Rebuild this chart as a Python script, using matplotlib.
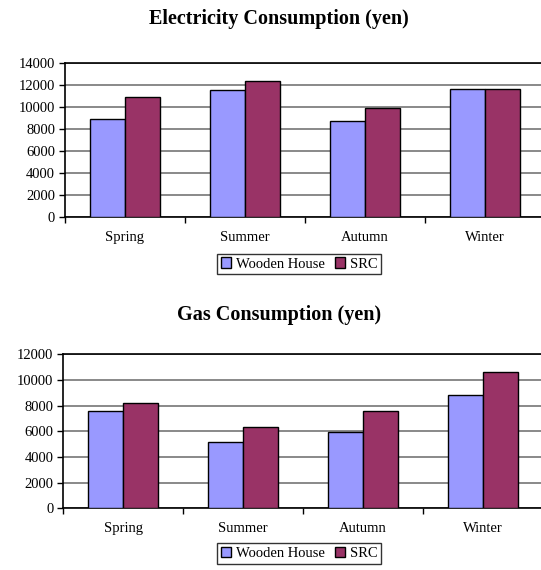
import numpy as np
import matplotlib
matplotlib.use("Agg")
import matplotlib.pyplot as plt

# values (yen)
seasons = ["Spring", "Summer", "Autumn", "Winter"]
series_names = ["Wooden House", "SRC"]
elec_wooden = [8950, 11500, 8700, 11600]
elec_src = [10950, 12350, 9950, 11600]
gas_wooden = [7550, 5200, 5950, 8850]
gas_src = [8200, 6300, 7550, 10600]

colors = ["#9999FF", "#993366"]
plt.rcParams["font.family"] = ["Liberation Serif", "DejaVu Serif"]

fig = plt.figure(figsize=(5.41, 5.70), dpi=100)


def draw_panel(rect, wooden, src, ymax, title, title_y, legend_y):
    ax = fig.add_axes(rect)
    x = np.arange(len(seasons))
    w = 0.29
    ax.bar(x - w / 2, wooden, w, color=colors[0], edgecolor="black",
           linewidth=1.0, label=series_names[0], zorder=3)
    ax.bar(x + w / 2, src, w, color=colors[1], edgecolor="black",
           linewidth=1.0, label=series_names[1], zorder=3)
    ax.set_xlim(-0.5, len(seasons) - 0.5)
    ax.set_ylim(0, ymax)
    ax.set_yticks(np.arange(0, ymax + 1, 2000))
    ax.yaxis.grid(True, color="#808080", linewidth=1.3, zorder=0)
    ax.set_axisbelow(True)
    # ticks at category boundaries, labels at centres
    ax.set_xticks(np.arange(-0.5, len(seasons), 1.0))
    ax.set_xticklabels([])
    ax.set_xticks(x, minor=True)
    ax.set_xticklabels(seasons, minor=True, fontsize=10.5)
    ax.tick_params(axis="x", which="minor", length=0, pad=10)
    ax.tick_params(axis="x", which="major", length=4, width=1, direction="out")
    ax.tick_params(axis="y", length=4, width=1, direction="out", labelsize=10.5, pad=3)
    for s in ["left", "bottom", "top"]:
        ax.spines[s].set_linewidth(1.2)
        ax.spines[s].set_color("black")
    ax.spines["right"].set_visible(False)
    fig.text(0.515, title_y, title, ha="center", va="center",
             fontsize=14.5, fontweight="bold")
    leg = ax.legend(loc="center", bbox_to_anchor=(0.553, legend_y),
                    bbox_transform=fig.transFigure, ncol=2, fontsize=10.5,
                    frameon=True, fancybox=False, handlelength=0.7,
                    handleheight=0.7, handletextpad=0.35, columnspacing=0.7,
                    borderpad=0.25, borderaxespad=0)
    leg.get_frame().set_edgecolor("black")
    leg.get_frame().set_linewidth(1.0)
    return ax


draw_panel([0.120, 0.6193, 0.887, 0.2702], elec_wooden, elec_src, 14000,
           "Electricity Consumption (yen)", 0.9667, 0.537)
draw_panel([0.117, 0.1082, 0.887, 0.2702], gas_wooden, gas_src, 12000,
           "Gas Consumption (yen)", 0.4474, 0.029)

fig.savefig("out.png", dpi=100)
